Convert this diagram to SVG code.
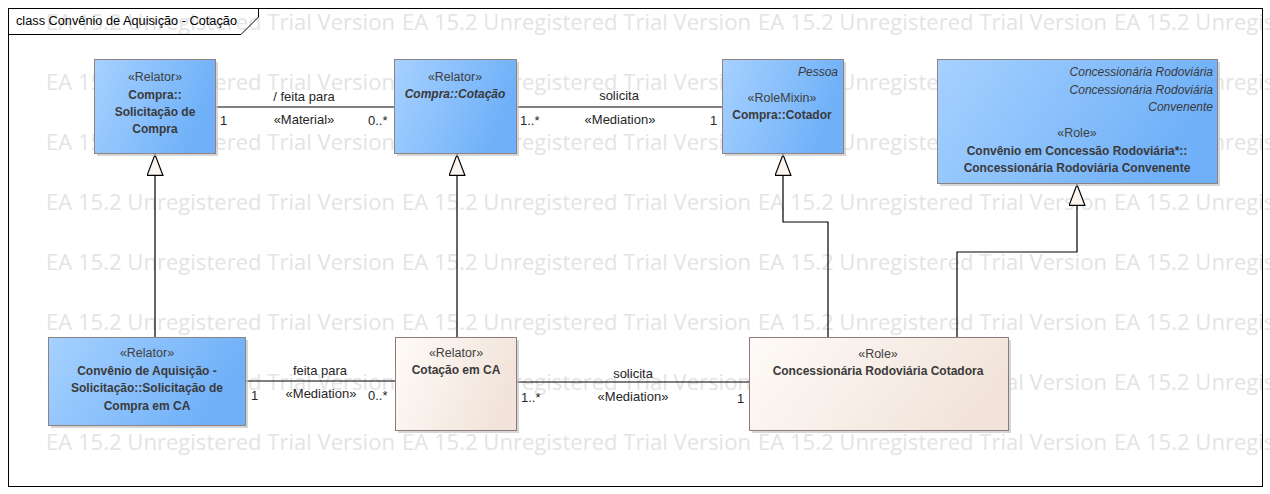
<svg xmlns="http://www.w3.org/2000/svg" xmlns:xlink="http://www.w3.org/1999/xlink" width="1270" height="494" viewBox="0 0 1270 494">
<style>
text{font-family:"Liberation Sans",Arial,sans-serif;font-size:12px;fill:#3a3a3a}
.wm{font-family:"Open Sans","Noto Sans",sans-serif;font-size:22px;fill:#e4e4e4}
.c{text-anchor:middle}
.b{font-weight:bold}
.i{font-style:italic}
.r{text-anchor:end}
.st{font-size:12.5px;fill:#404040}
.lbl{fill:#262626;font-size:13px}
.blue{fill:url(#gBlue);stroke:#8f8280;stroke-width:1}
.beige{fill:url(#gBeige);stroke:#8f7c78;stroke-width:1}
.shadow{fill:#c4c4c4;opacity:0.7}
.conn{fill:none;stroke:#000;stroke-width:1.2}
.gen{marker-end:url(#tri)}
</style>
<defs>
<linearGradient id="gBlue" x1="0" y1="0" x2="1" y2="0.3">
<stop offset="0" stop-color="#a6d1ff"/>
<stop offset="1" stop-color="#6fb0f8"/>
</linearGradient>
<linearGradient id="gBeige" x1="0" y1="0" x2="1" y2="0.3">
<stop offset="0" stop-color="#fefbf8"/>
<stop offset="1" stop-color="#f2e4da"/>
</linearGradient>
<marker id="tri" viewBox="0 0 22 17" refX="22" refY="8.5" markerWidth="22" markerHeight="17" markerUnits="userSpaceOnUse" orient="auto">
<path d="M0.6,0.6 L21.4,8.5 L0.6,16.4 Z" fill="#fcf4ee" stroke="#000" stroke-width="1.2"/>
</marker>
<g id="wmrow">
<text class="wm" x="46" y="0" textLength="349" lengthAdjust="spacingAndGlyphs">EA 15.2 Unregistered Trial Version</text>
<text class="wm" x="402" y="0" textLength="349" lengthAdjust="spacingAndGlyphs">EA 15.2 Unregistered Trial Version</text>
<text class="wm" x="758" y="0" textLength="349" lengthAdjust="spacingAndGlyphs">EA 15.2 Unregistered Trial Version</text>
<text class="wm" x="1114" y="0" textLength="349" lengthAdjust="spacingAndGlyphs">EA 15.2 Unregistered Trial Version</text>
</g>
</defs>
<rect x="0" y="0" width="1270" height="494" fill="#fff"/>
<g id="watermark">
<use xlink:href="#wmrow" y="30"/>
<use xlink:href="#wmrow" y="90"/>
<use xlink:href="#wmrow" y="150"/>
<use xlink:href="#wmrow" y="210"/>
<use xlink:href="#wmrow" y="270"/>
<use xlink:href="#wmrow" y="330"/>
<use xlink:href="#wmrow" y="390"/>
<use xlink:href="#wmrow" y="450"/>
<use xlink:href="#wmrow" y="510"/>
</g>
<g id="frame">
<rect x="8.5" y="8.5" width="1254" height="478" fill="none" stroke="#000" stroke-width="1"/>
<path d="M8.5,34.5 H241 L258.5,17 V8.5" fill="none" stroke="#000" stroke-width="1"/>
<text x="16" y="25" textLength="221" lengthAdjust="spacingAndGlyphs" style="fill:#000">class Convênio de Aquisição - Cotação</text>
</g>
<g id="connectors">
<path class="conn" d="M215,107 H394"/>
<path class="conn" d="M516,107 H722"/>
<path class="conn" d="M245,381 H395"/>
<path class="conn" d="M516,382 H749"/>
<path class="conn gen" d="M155,337 V154"/>
<path class="conn gen" d="M457,337 V154"/>
<path class="conn gen" d="M828,337 V222 H783 V154"/>
<path class="conn gen" d="M957,337 V252 H1077 V184"/>
<text class="lbl c" x="304" y="101">/ feita para</text>
<text class="lbl c" x="304" y="124">«Material»</text>
<text class="lbl" x="220" y="125">1</text>
<text class="lbl" x="368" y="125">0..*</text>
<text class="lbl c" x="619" y="100">solicita</text>
<text class="lbl c" x="620" y="124">«Mediation»</text>
<text class="lbl" x="520" y="125">1..*</text>
<text class="lbl" x="710" y="125">1</text>
<text class="lbl c" x="320" y="375">feita para</text>
<text class="lbl c" x="321" y="398">«Mediation»</text>
<text class="lbl" x="251" y="400">1</text>
<text class="lbl" x="368" y="400">0..*</text>
<text class="lbl c" x="633" y="378">solicita</text>
<text class="lbl c" x="633" y="401">«Mediation»</text>
<text class="lbl" x="521" y="402">1..*</text>
<text class="lbl" x="737" y="403">1</text>
</g>
<g id="node-solicitacao-compra">
<rect class="shadow" x="97" y="62" width="121" height="94"/>
<rect class="blue" x="94.5" y="59.5" width="121" height="94"/>
<text class="c st" x="155" y="81">«Relator»</text>
<text class="c b" x="155" y="99">Compra::</text>
<text class="c b" x="155" y="116">Solicitação de</text>
<text class="c b" x="155" y="133">Compra</text>
</g>
<g id="node-cotacao">
<rect class="shadow" x="397" y="62" width="122" height="94"/>
<rect class="blue" x="394.5" y="59.5" width="122" height="94"/>
<text class="c st" x="455" y="81">«Relator»</text>
<text class="c b i" x="455" y="98">Compra::Cotação</text>
</g>
<g id="node-cotador">
<rect class="shadow" x="725" y="62" width="121" height="94"/>
<rect class="blue" x="722.5" y="59.5" width="121" height="94"/>
<text class="r i" x="838" y="76">Pessoa</text>
<text class="c st" x="782" y="102">«RoleMixin»</text>
<text class="c b" x="782" y="119">Compra::Cotador</text>
</g>
<g id="node-convenente">
<rect class="shadow" x="940" y="62" width="280" height="124"/>
<rect class="blue" x="937.5" y="59.5" width="280" height="124"/>
<text class="r i" x="1213" y="76">Concessionária Rodoviária</text>
<text class="r i" x="1213" y="94">Concessionária Rodoviária</text>
<text class="r i" x="1213" y="111">Convenente</text>
<text class="c st" x="1077" y="137">«Role»</text>
<text class="c b" x="1077" y="155">Convênio em Concessão Rodoviária*::</text>
<text class="c b" x="1077" y="172">Concessionária Rodoviária Convenente</text>
</g>
<g id="node-solicitacao-ca">
<rect class="shadow" x="51" y="340" width="197" height="88"/>
<rect class="blue" x="48.5" y="337.5" width="197" height="88"/>
<text class="c st" x="147" y="357">«Relator»</text>
<text class="c b" x="147" y="375">Convênio de Aquisição -</text>
<text class="c b" x="147" y="392">Solicitação::Solicitação de</text>
<text class="c b" x="147" y="410">Compra em CA</text>
</g>
<g id="node-cotacao-ca">
<rect class="shadow" x="398" y="340" width="121" height="93"/>
<rect class="beige" x="395.5" y="337.5" width="121" height="93"/>
<text class="c st" x="456" y="357">«Relator»</text>
<text class="c b" x="456" y="374">Cotação em CA</text>
</g>
<g id="node-cotadora">
<rect class="shadow" x="752" y="340" width="259" height="93"/>
<rect class="beige" x="749.5" y="337.5" width="259" height="93"/>
<text class="c st" x="878" y="358">«Role»</text>
<text class="c b" x="878" y="375">Concessionária Rodoviária Cotadora</text>
</g>
</svg>
